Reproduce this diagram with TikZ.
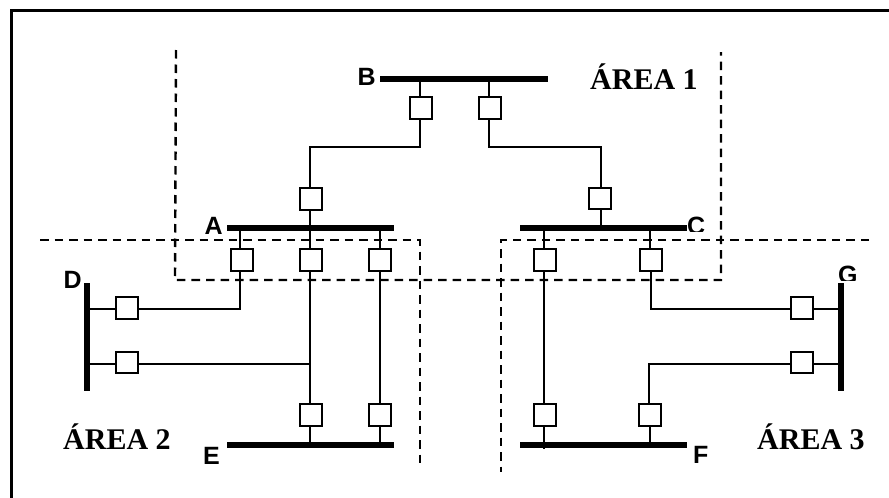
\documentclass[tikz,border=0pt]{standalone}
\usepackage{fontspec}
\setmainfont{Liberation Serif}
\setsansfont{Liberation Sans}
\begin{document}
\begin{tikzpicture}[x=1pt,y=-1pt,
  bus/.style={line width=6pt,line cap=butt},
  wire/.style={line width=1.8pt},
  area/.style={line width=2.4pt,dash pattern=on 8.5pt off 6pt},
  brk/.style={draw,line width=1.8pt,fill=white,minimum width=22pt,minimum height=21.5pt,inner sep=0pt,outer sep=0pt},
  buslabel/.style={font=\fontsize{25}{25}\sffamily\bfseries,inner sep=0pt,anchor=base west},
  arealabel/.style={font=\fontsize{30}{30}\rmfamily\bfseries,inner sep=0pt,anchor=base west}]
\useasboundingbox (0,0) rectangle (889,498);
\coordinate (fa) at (11.5,498); \coordinate (fb) at (11.5,10.5); \coordinate (fc) at (889,10.5);
\draw[line width=2.6pt] (fa) -- (fb) -- (fc);
% dashed areas
\coordinate (a1a) at (176,50); \coordinate (a1b) at (175,280); \coordinate (a1c) at (721,280); \coordinate (a1d) at (721,52);
\draw[area] (a1a) -- (a1b) -- (a1c) -- (a1d);
\coordinate (a2a) at (40,240); \coordinate (a2b) at (420,240); \coordinate (a2c) at (420,468);
\draw[area] (a2a) -- (a2b) -- (a2c);
\coordinate (a3a) at (869,240); \coordinate (a3b) at (501,240); \coordinate (a3c) at (501,472);
\draw[area] (a3a) -- (a3b) -- (a3c);
% buses
\coordinate (Bl) at (380,78.5); \coordinate (Br) at (548,78.5);
\coordinate (Al) at (227,228); \coordinate (Ar) at (394,228);
\coordinate (Cl) at (520,228); \coordinate (Cr) at (687,228);
\coordinate (El) at (227,445); \coordinate (Er) at (394,445);
\coordinate (Fl) at (520,445); \coordinate (Fr) at (687,445);
\coordinate (Dt) at (87,283); \coordinate (Db) at (87,391);
\coordinate (Gt) at (841,283); \coordinate (Gb) at (841,391);
% breakers
\node[brk] (b1) at (421,108) {};
\node[brk] (b2) at (490,108) {};
\node[brk] (a0) at (311,199) {};
\node[brk] (c0) at (600,198.5) {};
\node[brk] (a1) at (242,260) {};
\node[brk] (a2) at (311,260) {};
\node[brk] (a3) at (380,260) {};
\node[brk] (c1) at (545,260) {};
\node[brk] (c2) at (651,260) {};
\node[brk] (d1) at (127,308) {};
\node[brk] (d2) at (127,362.5) {};
\node[brk] (g1) at (802,308) {};
\node[brk] (g2) at (802,362.5) {};
\node[brk] (e1) at (311,415) {};
\node[brk] (e2) at (380,415) {};
\node[brk] (f1) at (545,415) {};
\node[brk] (f2) at (650,415) {};
% wires
\draw[wire] (420,97) -- (420,78.5);
\draw[wire] (489,97) -- (489,78.5);
\draw[wire] (420,119) -- (420,147) -- (310,147) -- (310,188);
\draw[wire] (489,119) -- (489,147) -- (601,147) -- (601,188);
\draw[wire] (310,210) -- (310,228);
\draw[wire] (601,209) -- (601,228);
\draw[wire] (240,228) -- (240,249);
\draw[wire] (310,228) -- (310,249);
\draw[wire] (380,228) -- (380,249);
\draw[wire] (544,228) -- (544,249);
\draw[wire] (650,228) -- (650,249);
\draw[wire] (240,271) -- (240,309) -- (138,309);
\draw[wire] (310,271) -- (310,404);
\draw[wire] (310,364) -- (138,364);
\draw[wire] (380,271) -- (380,404);
\draw[wire] (544,271) -- (544,404);
\draw[wire] (651,271) -- (651,309) -- (791,309);
\draw[wire] (791,364) -- (649,364) -- (649,404);
\draw[wire] (87,309) -- (116,309);
\draw[wire] (87,364) -- (116,364);
\draw[wire] (813,309) -- (841,309);
\draw[wire] (813,364) -- (841,364);
\draw[wire] (310,426) -- (310,445);
\draw[wire] (380,426) -- (380,445);
\draw[wire] (544,426) -- (544,449);
\draw[wire] (650,426) -- (650,445);
\draw[bus] (Bl) -- (Br);
\draw[bus] (Al) -- (Ar);
\draw[bus] (Cl) -- (Cr);
\draw[bus] (El) -- (Er);
\draw[bus] (Fl) -- (Fr);
\draw[bus] (Dt) -- (Db);
\draw[bus] (Gt) -- (Gb);
% labels
\node[buslabel] (lB) at (357.5,85) {B};
\node[buslabel] (lA) at (204.5,234) {A};
\node[buslabel] (lD) at (63.5,288) {D};
\node[buslabel] (lE) at (203,464) {E};
\node[buslabel] (lF) at (693,463) {F};
\begin{scope}
\clip (680,210) rectangle (715,231.5);
\node[buslabel] (lC) at (687,234) {C};
\end{scope}
\begin{scope}
\clip (830,260) rectangle (865,280);
\node[buslabel] (lG) at (838,283) {G};
\end{scope}
\node[arealabel] (t1) at (590,89) {ÁREA 1};
\node[arealabel] (t2) at (63,449) {ÁREA 2};
\node[arealabel] (t3) at (757,449) {ÁREA 3};
\end{tikzpicture}
\end{document}
